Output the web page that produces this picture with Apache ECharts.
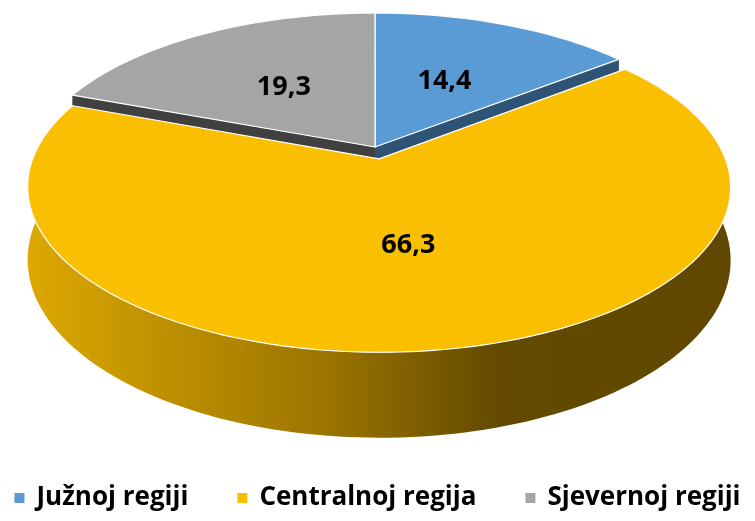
<!DOCTYPE html>
<html>
<head>
<meta charset="utf-8">
<script src="https://cdn.jsdelivr.net/npm/echarts@6/dist/echarts.min.js"></script>
<style>
  html, body { margin: 0; padding: 0; background: #fff; }
  #chart { width: 755px; height: 521px; }
</style>
</head>
<body>
<div id="chart"></div>
<script>
const categories = ['Južnoj regiji', 'Centralnoj regija', 'Sjevernoj regiji'];
const values = [14.4, 66.3, 19.3];
const valueLabels = ['14,4', '66,3', '19,3'];

const topColors = ['#5B9BD5', '#FABF00', '#A5A5A5'];
const edgeColors = ['#2F5374', '#8A6800', '#404040'];
const sideStops = [
  [[0, '#3F6E99'], [1, '#23405C']],
  [[0, '#DCA800'], [0.42, '#9C7500'], [0.67, '#634A00'], [1, '#614800']],
  [[0, '#7A7A7A'], [1, '#3A3A3A']]
];
const pulledOut = [false, true, false];

// perspective pie geometry
const CX = 375, CY = 147, RX = 342, RY = 156.5, PERSP = 0.168, DEPTH = 70, EXPLODE = 0.0757;
const FONT = '"Open Sans", "Liberation Sans", sans-serif';

const total = values.reduce((s, v) => s + v, 0);
const slices = [];
let acc = 0;
values.forEach((v, i) => {
  const a0 = acc / total * Math.PI * 2;
  acc += v;
  const a1 = acc / total * Math.PI * 2;
  const mid = (a0 + a1) / 2;
  const e = pulledOut[i] ? EXPLODE : 0;
  slices.push({ a0, a1, mid, ox: e * Math.sin(mid), oy: e * Math.cos(mid) });
});

function proj(u, v, z) {
  const d = 1 + PERSP * v;
  return [CX + RX * u / d, CY + (-RY * v + DEPTH * z) / d];
}
function pt(s, ang, r, z) {
  return proj(r * Math.sin(ang) + s.ox, r * Math.cos(ang) + s.oy, z);
}
function arc(s, z) {
  const n = Math.max(2, Math.ceil((s.a1 - s.a0) / (Math.PI * 2) * 240));
  const pts = [];
  for (let k = 0; k <= n; k++) pts.push(pt(s, s.a0 + (s.a1 - s.a0) * k / n, 1, z));
  return pts;
}
function grad(stops) {
  return {
    type: 'linear', x: 0, y: 0, x2: 1, y2: 0,
    colorStops: stops.map(([offset, color]) => ({ offset, color }))
  };
}

function renderWalls(params) {
  const i = params.dataIndex;
  const s = slices[i];
  const z2 = Math.round(-Math.cos(s.mid) * 100);
  const top = arc(s, 0);
  const bottom = arc(s, 1).reverse();
  const radial = a => [pt(s, a, 0, 0), pt(s, a, 1, 0), pt(s, a, 1, 1), pt(s, a, 0, 1)];
  return {
    type: 'group',
    children: [
      { type: 'polygon', z2, shape: { points: top.concat(bottom) }, style: { fill: grad(sideStops[i]) } },
      { type: 'polygon', z2: z2 + 1, shape: { points: radial(s.a0) }, style: { fill: edgeColors[i] } },
      { type: 'polygon', z2: z2 + 1, shape: { points: radial(s.a1) }, style: { fill: edgeColors[i] } }
    ]
  };
}

function topRenderer(i) {
  return function () {
    const s = slices[i];
    const lp = pt(s, s.mid, 0.5, 0);
    return {
      type: 'group',
      children: [
        {
          type: 'polygon',
          shape: { points: [pt(s, 0, 0, 0)].concat(arc(s, 0)) },
          style: { fill: topColors[i], stroke: '#ffffff', lineWidth: 1.2, lineJoin: 'round' }
        },
        {
          type: 'text', x: lp[0], y: lp[1], z2: 10,
          style: {
            text: valueLabels[i], fill: '#000', font: 'bold 27px ' + FONT,
            align: 'center', verticalAlign: 'middle'
          }
        }
      ]
    };
  };
}

const chart = echarts.init(document.getElementById('chart'), null, { renderer: 'canvas' });

const series = [];
categories.forEach((name, i) => {
  series.push({
    type: 'custom', name, coordinateSystem: 'none', z: 3,
    itemStyle: { color: topColors[i] },
    renderItem: topRenderer(i),
    data: [values[i]]
  });
});
series.push({
  type: 'custom', name: 'walls', coordinateSystem: 'none', z: 2,
  renderItem: renderWalls,
  data: values
});

chart.setOption({
  backgroundColor: '#fff',
  animation: false,
  legend: {
    data: categories,
    left: 'center',
    top: 480,
    icon: 'rect',
    itemWidth: 10,
    itemHeight: 10,
    itemGap: 49,
    textStyle: {
      fontFamily: FONT, fontWeight: 'bold', fontSize: 26, color: '#000',
      padding: [0, 0, 0, 7]
    }
  },
  series
});
</script>
</body>
</html>
